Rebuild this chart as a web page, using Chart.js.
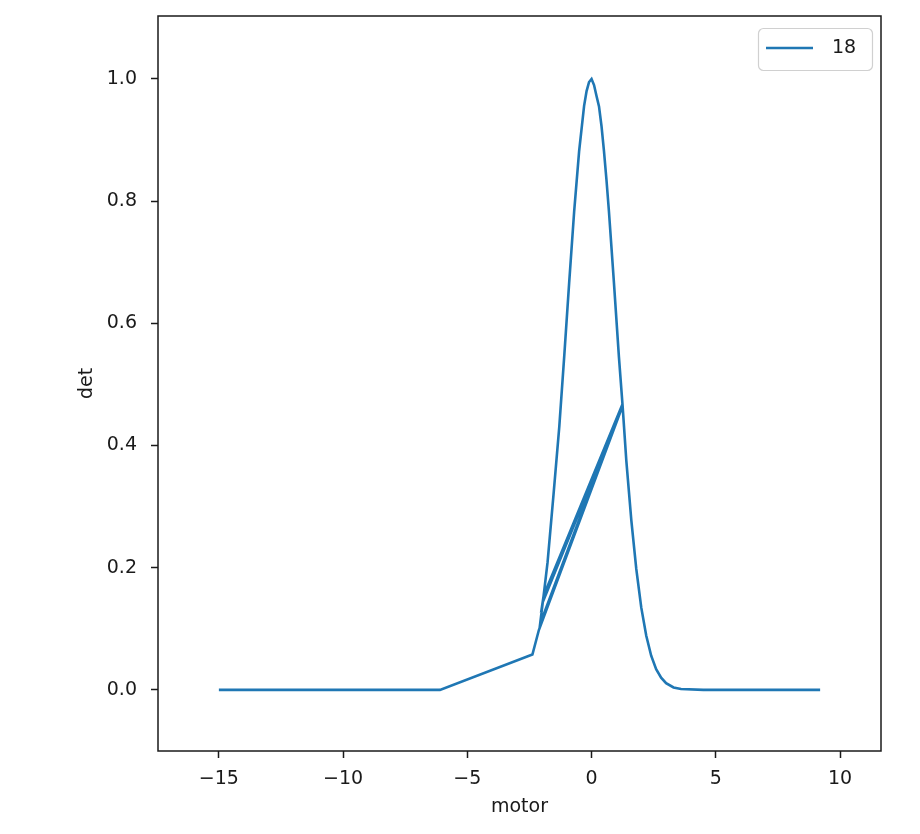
<!DOCTYPE html>
<html>
<head>
<meta charset="utf-8">
<script src="https://cdn.jsdelivr.net/npm/chart.js@4"></script>
<style>
  body { margin: 0; background: #fff; }
  canvas { display: block; }
</style>
</head>
<body>
<canvas id="chart" width="920" height="834"></canvas>
<script>
'use strict';

// scan data
const motorValues = [-15, -12, -9, -6.1, -2.38, -2.12, 1.25, -1.97, -1.93, 1.24, -2.07, -1.9, -1.77, -1.53, -1.3, -1.1, -0.9, -0.7, -0.5, -0.3, -0.2, -0.1, 0, 0.1, 0.2, 0.3, 0.4, 0.5, 0.6, 0.7, 0.9, 1.1, 1.25, 1.4, 1.6, 1.8, 2.0, 2.2, 2.4, 2.6, 2.8, 3.0, 3.3, 3.6, 4.5, 6.0, 7.6, 9.2];
const detValues = [0, 0, 0, 0, 0.058, 0.098, 0.465, 0.143, 0.154, 0.467, 0.108, 0.164, 0.209, 0.32, 0.43, 0.546, 0.667, 0.783, 0.882, 0.956, 0.98, 0.995, 1.0, 0.99, 0.972, 0.955, 0.923, 0.882, 0.835, 0.783, 0.667, 0.546, 0.465, 0.375, 0.278, 0.198, 0.135, 0.089, 0.056, 0.034, 0.02, 0.011, 0.004, 0.0015, 0, 0, 0, 0];
const seriesName = '18';
const xTicks = [-15, -10, -5, 0, 5, 10];
const yTicks = [0, 0.2, 0.4, 0.6, 0.8, 1.0];

const textColor = '#1a1a1a';
const lineColor = '#1f77b4';
const fontSize = 19;

// box around plot + legend in upper right
const framePlugin = {
  id: 'frame',
  afterDraw(chart) {
    const ctx = chart.ctx;
    const a = chart.chartArea;
    ctx.save();
    ctx.strokeStyle = '#1a1a1a';
    ctx.lineWidth = 1.5;
    ctx.strokeRect(a.left, a.top, a.right - a.left, a.bottom - a.top);

    const ds = chart.data.datasets[0];
    const bx = a.right - 123, by = a.top + 12, bw = 114, bh = 42;
    ctx.strokeStyle = '#d0d0d0';
    ctx.lineWidth = 1.2;
    ctx.fillStyle = 'rgba(255,255,255,0.8)';
    ctx.beginPath();
    ctx.roundRect(bx + 0.5, by + 0.5, bw, bh, 5);
    ctx.fill();
    ctx.stroke();
    ctx.strokeStyle = ds.borderColor;
    ctx.lineWidth = ds.borderWidth;
    ctx.beginPath();
    ctx.moveTo(bx + 8, by + 20);
    ctx.lineTo(bx + 55, by + 20);
    ctx.stroke();
    ctx.fillStyle = textColor;
    ctx.font = fontSize + 'px "DejaVu Sans"';
    ctx.textBaseline = 'middle';
    ctx.fillText(ds.label, bx + 74, by + 20);
    ctx.restore();
  }
};

function renderChart() {
  let canvasChart = document.getElementById('chart');

  const points = [];
  for (let i = 0; i < motorValues.length; i++) {
    points.push({ x: motorValues[i], y: detValues[i] });
  }

  new Chart(canvasChart, {
    type: 'scatter',
    data: {
      datasets: [{
        label: seriesName,
        data: points,
        showLine: true,
        pointRadius: 0,
        borderColor: lineColor,
        backgroundColor: lineColor,
        borderWidth: 2.6,
        tension: 0
      }]
    },
    options: {
      responsive: false,
      animation: false,
      layout: { padding: { top: 16, right: 39, left: 0, bottom: 0 } },
      plugins: {
        legend: { display: false },
        tooltip: { enabled: false }
      },
      scales: {
        x: {
          type: 'linear',
          min: -17.45,
          max: 11.65,
          afterBuildTicks: (scale) => { scale.ticks = xTicks.map(v => ({ value: v })); },
          afterFit: (scale) => {
            scale.height = 83;
            scale.paddingLeft = 0;
            scale.paddingRight = 0;
          },
          grid: { drawOnChartArea: false, drawTicks: true, tickLength: 7, tickWidth: 1.5, color: '#1a1a1a' },
          border: { display: false },
          ticks: {
            color: textColor,
            font: { family: 'DejaVu Sans', size: fontSize },
            padding: 10,
            maxRotation: 0,
            callback: (v) => v < 0 ? '\u2212' + Math.abs(v) : String(v)
          },
          title: {
            display: true,
            text: 'motor',
            color: textColor,
            font: { family: 'DejaVu Sans', size: fontSize },
            padding: { top: 0, bottom: 16 }
          }
        },
        y: {
          type: 'linear',
          min: -0.1,
          max: 1.103,
          afterBuildTicks: (scale) => { scale.ticks = yTicks.map(v => ({ value: v })); },
          afterFit: (scale) => {
            scale.width = 158;
            scale.paddingTop = 0;
            scale.paddingBottom = 0;
          },
          grid: { drawOnChartArea: false, drawTicks: true, tickLength: 7, tickWidth: 1.5, color: '#1a1a1a' },
          border: { display: false },
          ticks: {
            color: textColor,
            font: { family: 'DejaVu Sans', size: fontSize },
            padding: 14,
            callback: (v) => v.toFixed(1)
          },
          title: {
            display: true,
            text: 'det',
            color: textColor,
            font: { family: 'DejaVu Sans', size: fontSize },
            padding: { top: 76, bottom: 0 }
          }
        }
      }
    },
    plugins: [framePlugin]
  });
}

renderChart();
</script>
</body>
</html>
